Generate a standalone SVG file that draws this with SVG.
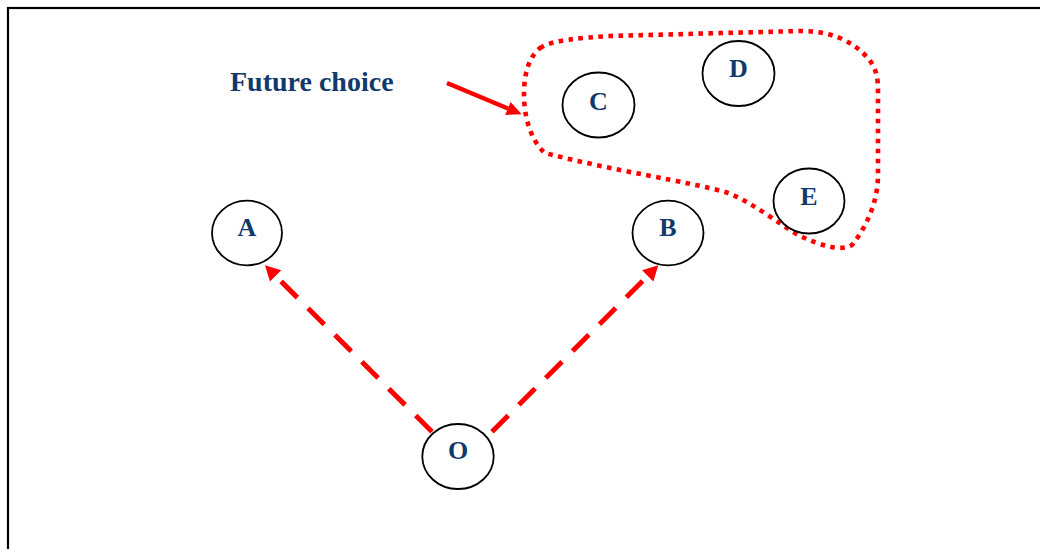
<svg xmlns="http://www.w3.org/2000/svg" width="1040" height="549" viewBox="0 0 1040 549">
  <style>
    .node ellipse { fill: #ffffff; stroke: #000000; stroke-width: 1.8; }
    .label { font-family: "Liberation Serif", "Times New Roman", serif; font-weight: bold; font-size: 26px; fill: #113A6B; text-anchor: middle; }
    .title { font-family: "Liberation Serif", "Times New Roman", serif; font-weight: bold; font-size: 28px; fill: #113A6B; }
    .dashed { fill: none; stroke: #ff0000; stroke-width: 5; stroke-dasharray: 23 15; marker-end: url(#head); }
    .pointer { fill: none; stroke: #ff0000; stroke-width: 4.5; marker-end: url(#head-small); }
    .group-outline { fill: none; stroke: #ff0000; stroke-width: 4.6; stroke-dasharray: 4.6 5.4; stroke-linejoin: round; }
  </style>
  <defs>
    <marker id="head" markerUnits="userSpaceOnUse" markerWidth="16" markerHeight="17" refX="0" refY="8" orient="auto" overflow="visible">
      <path d="M0,0 L15,8 L0,16 Z" fill="#ff0000"/>
    </marker>
    <marker id="head-small" markerUnits="userSpaceOnUse" markerWidth="16" markerHeight="15" refX="0" refY="7" orient="auto" overflow="visible">
      <path d="M0,0 L15,7 L0,14 Z" fill="#ff0000"/>
    </marker>
  </defs>

  <rect width="1040" height="549" fill="#ffffff"/>
  <!-- page frame -->
  <rect x="8" y="8" width="1100" height="600" fill="none" stroke="#000000" stroke-width="2.2"/>

  <!-- dotted outline grouping the later options -->
  <path class="group-outline" d="M540,48 C552,40 580,38 610,36 L800,31 C830,31 850,40 865,55 C878,68 878,80 878,95 L878,175 C878,200 868,225 852,245 C840,252 820,245 800,236 C780,225 750,200 725,192 C690,182 610,170 545,153 C530,140 524,115 524,95 C524,75 528,58 540,48 Z"/>

  <text class="title" x="230" y="91">Future choice</text>

  <g id="connectors">
    <line class="dashed" x1="432" y1="431.7" x2="275.6" y2="275.9"/>
    <line class="dashed" x1="492" y1="431.7" x2="647.7" y2="275.9"/>
    <line class="pointer" x1="447" y1="83" x2="507.9" y2="108.5"/>
  </g>

  <g id="node-A" class="node">
    <ellipse cx="247" cy="233" rx="35" ry="32.3"/>
    <text class="label" x="247" y="236">A</text>
  </g>
  <g id="node-B" class="node">
    <ellipse cx="668" cy="233" rx="35.5" ry="32.3"/>
    <text class="label" x="668" y="236">B</text>
  </g>
  <g id="node-O" class="node">
    <ellipse cx="458" cy="456.5" rx="35.7" ry="32.5"/>
    <text class="label" x="458" y="459">O</text>
  </g>
  <g id="node-C" class="node">
    <ellipse cx="598.5" cy="105" rx="36" ry="32.5"/>
    <text class="label" x="598.5" y="110">C</text>
  </g>
  <g id="node-D" class="node">
    <ellipse cx="738.5" cy="73.5" rx="36" ry="32.5"/>
    <text class="label" x="738.5" y="77">D</text>
  </g>
  <g id="node-E" class="node">
    <ellipse cx="809" cy="201" rx="35.5" ry="32.5"/>
    <text class="label" x="809" y="205">E</text>
  </g>
</svg>
